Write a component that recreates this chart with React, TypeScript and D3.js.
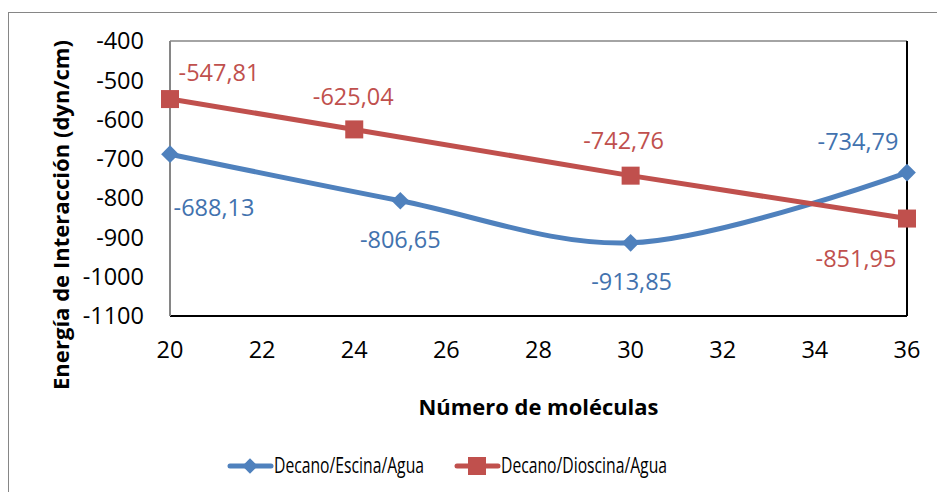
import React, { useEffect, useRef } from "react";
import * as d3 from "d3";

const escinaX = [20, 25, 30, 36];
const escinaY = [-688.13, -806.65, -913.85, -734.79];
const dioscinaX = [20, 24, 30, 36];
const dioscinaY = [-547.81, -625.04, -742.76, -851.95];
const xTicks = [20, 22, 24, 26, 28, 30, 32, 34, 36];
const yTicks = [-400, -500, -600, -700, -800, -900, -1000, -1100];
const seriesNames = ["Decano/Escina/Agua", "Decano/Dioscina/Agua"];

const BLUE = "#4F81BD";
const RED = "#C0504D";
const BLUE_TXT = "#4272AE";

const fmt = (v: number) => v.toFixed(2).replace(".", ",");

const App: React.FC = () => {
  const ref = useRef<SVGSVGElement>(null);

  useEffect(() => {
    const svg = d3.select(ref.current);
    svg.selectAll("*").remove();
    const W = 937;
    const H = 492;
    const margin = { top: 41, right: 30, bottom: 176, left: 170 };
    const font = "'Open Sans', sans-serif";

    svg.attr("width", W).attr("height", H);

    // outer chart border
    svg
      .append("rect")
      .attr("x", 8.5)
      .attr("y", 12.5)
      .attr("width", W + 20)
      .attr("height", H + 20)
      .attr("fill", "white")
      .attr("stroke", "#868686")
      .attr("stroke-width", 1);

    const x = d3.scaleLinear().domain([20, 36]).range([margin.left, W - margin.right]);
    const y = d3.scaleLinear().domain([-400, -1100]).range([margin.top, H - margin.bottom]);

    const [x0, x1] = x.range();
    const [y0, y1] = y.range();

    // plot area border
    svg.append("line").attr("x1", x0).attr("x2", x1).attr("y1", y0).attr("y2", y0).attr("stroke", "#868686").attr("stroke-width", 1.5);
    svg.append("line").attr("x1", x1).attr("x2", x1).attr("y1", y0).attr("y2", y1).attr("stroke", "#000").attr("stroke-width", 2);
    svg.append("line").attr("x1", x0).attr("x2", x1).attr("y1", y1).attr("y2", y1).attr("stroke", "#000").attr("stroke-width", 2);
    svg.append("line").attr("x1", x0).attr("x2", x0).attr("y1", y0).attr("y2", y1).attr("stroke", "#868686").attr("stroke-width", 2);

    // tick labels
    svg
      .append("g")
      .selectAll("text")
      .data(yTicks)
      .enter()
      .append("text")
      .attr("x", x0 - 26)
      .attr("y", (d) => y(d))
      .attr("dy", "0.35em")
      .attr("text-anchor", "end")
      .style("font-family", font)
      .style("font-size", "23.5px")
      .attr("fill", "#000")
      .text((d) => d);

    svg
      .append("g")
      .selectAll("text")
      .data(xTicks)
      .enter()
      .append("text")
      .attr("x", (d) => x(d))
      .attr("y", y1 + 34)
      .attr("dy", "0.35em")
      .attr("text-anchor", "middle")
      .style("font-family", font)
      .style("font-size", "23.5px")
      .attr("fill", "#000")
      .text((d) => d);

    // axis titles
    svg
      .append("text")
      .attr("x", (x0 + x1) / 2)
      .attr("y", 408)
      .attr("dy", "0.35em")
      .attr("text-anchor", "middle")
      .style("font-family", font)
      .style("font-size", "21px")
      .style("font-weight", "bold")
      .attr("textLength", 240)
      .attr("lengthAdjust", "spacingAndGlyphs")
      .text("Número de moléculas");

    svg
      .append("text")
      .attr("transform", `translate(62,215)rotate(-90)`)
      .attr("dy", "0.35em")
      .attr("text-anchor", "middle")
      .style("font-family", font)
      .style("font-size", "21px")
      .style("font-weight", "bold")
      .attr("textLength", 350)
      .attr("lengthAdjust", "spacingAndGlyphs")
      .text("Energía de Interacción (dyn/cm)");

    // lines
    const escina = escinaX.map((v, i) => [v, escinaY[i]] as [number, number]);
    const dioscina = dioscinaX.map((v, i) => [v, dioscinaY[i]] as [number, number]);

    const smooth = d3
      .line<[number, number]>()
      .x((d) => x(d[0]))
      .y((d) => y(d[1]))
      .curve(d3.curveCatmullRom.alpha(0.5));
    const straight = d3
      .line<[number, number]>()
      .x((d) => x(d[0]))
      .y((d) => y(d[1]));

    svg.append("path").attr("d", smooth(escina)!).attr("fill", "none").attr("stroke", BLUE).attr("stroke-width", 5).attr("stroke-linejoin", "round");
    svg.append("path").attr("d", straight(dioscina)!).attr("fill", "none").attr("stroke", RED).attr("stroke-width", 5).attr("stroke-linejoin", "round");

    const diamond = d3.symbol().type(d3.symbolDiamond2).size(200);

    svg
      .append("g")
      .selectAll("path")
      .data(escina)
      .enter()
      .append("path")
      .attr("d", diamond()!)
      .attr("transform", (d) => `translate(${x(d[0])},${y(d[1])})`)
      .attr("fill", BLUE);

    svg
      .append("g")
      .selectAll("rect")
      .data(dioscina)
      .enter()
      .append("rect")
      .attr("x", (d) => x(d[0]) - 9)
      .attr("y", (d) => y(d[1]) - 9)
      .attr("width", 18)
      .attr("height", 18)
      .attr("fill", RED);

    // data labels (offsets relative to points)
    const escinaOff = [
      [44, 54],
      [0, 39],
      [1, 39],
      [-49, -31],
    ];
    const dioscinaOff = [
      [49, -26],
      [-1, -33],
      [-7, -35],
      [-51, 40],
    ];

    svg
      .append("g")
      .selectAll("text")
      .data(escina)
      .enter()
      .append("text")
      .attr("x", (d, i) => x(d[0]) + escinaOff[i][0])
      .attr("y", (d, i) => y(d[1]) + escinaOff[i][1])
      .attr("dy", "0.35em")
      .attr("text-anchor", "middle")
      .style("font-family", font)
      .style("font-size", "23.5px")
      .attr("fill", BLUE_TXT)
      .text((d) => fmt(d[1]));

    svg
      .append("g")
      .selectAll("text")
      .data(dioscina)
      .enter()
      .append("text")
      .attr("x", (d, i) => x(d[0]) + dioscinaOff[i][0])
      .attr("y", (d, i) => y(d[1]) + dioscinaOff[i][1])
      .attr("dy", "0.35em")
      .attr("text-anchor", "middle")
      .style("font-family", font)
      .style("font-size", "23.5px")
      .attr("fill", RED)
      .text((d) => fmt(d[1]));

    // legend
    const lg = svg.append("g").attr("transform", "translate(0,466)");
    const items = [
      { name: seriesNames[0], color: BLUE, x: 230, marker: "diamond", w: 150 },
      { name: seriesNames[1], color: RED, x: 457, marker: "square", w: 166 },
    ];
    items.forEach((it) => {
      lg.append("line").attr("x1", it.x).attr("x2", it.x + 41).attr("y1", 0).attr("y2", 0).attr("stroke", it.color).attr("stroke-width", 5).attr("stroke-linecap", "round");
      if (it.marker === "diamond") {
        lg.append("path").attr("d", d3.symbol().type(d3.symbolDiamond2).size(150)()!).attr("transform", `translate(${it.x + 20},0)`).attr("fill", it.color);
      } else {
        lg.append("rect").attr("x", it.x + 11).attr("y", -9).attr("width", 18).attr("height", 18).attr("fill", it.color);
      }
      lg.append("text")
        .attr("x", it.x + 44)
        .attr("y", 0)
        .attr("dy", "0.35em")
        .style("font-family", font)
        .style("font-size", "21px")
        .attr("fill", "#000")
        .attr("textLength", it.w)
        .attr("lengthAdjust", "spacingAndGlyphs")
        .text(it.name);
    });
  }, []);

  return (
    <div>
      <svg ref={ref} style={{ position: "absolute", left: 0, top: 0, display: "block" }} />
    </div>
  );
};

export default App;
